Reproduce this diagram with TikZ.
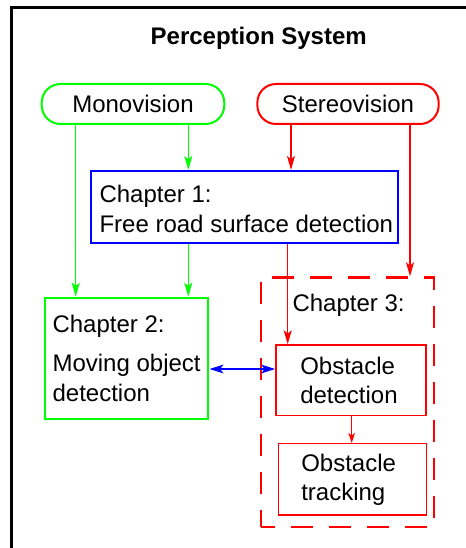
\documentclass[tikz,border=0pt]{standalone}
\usepackage{fontspec}
\setmainfont{Liberation Sans}
\usetikzlibrary{arrows.meta}
\definecolor{cgreen}{RGB}{0,255,0}
\definecolor{cred}{RGB}{255,0,0}
\definecolor{cblue}{RGB}{0,0,255}
\tikzset{
  box/.style={draw, rectangle, inner sep=0pt},
  txt/.style={anchor=base west, inner sep=0pt},
  garrow/.style={draw=cgreen, line width=1pt, -{Stealth[length=10.5pt,width=6pt,inset=2.5pt]}},
  rarrow/.style={draw=cred, line width=1pt, -{Stealth[length=10.5pt,width=6pt,inset=2.5pt]}},
  rsmall/.style={draw=cred, line width=1pt, -{Stealth[length=7.5pt,width=5pt,inset=2pt]}},
  barrow/.style={draw=cblue, line width=1.1pt, {Stealth[length=10.5pt,width=6.5pt,inset=2.5pt]}-{Stealth[length=10.5pt,width=6.5pt,inset=2.5pt]}},
}
\begin{document}
\begin{tikzpicture}[x=0.75pt, y=-0.75pt, font=\fontsize{18}{21.6}\selectfont]
\useasboundingbox (0,0) rectangle (466,548);
\clip (0,0) rectangle (466,548);
% outer frame
\draw[line width=2.6pt] (11.3,7.5) rectangle (540,620);
% title
\node[anchor=base, inner sep=0pt, font=\fontsize{18}{21.6}\selectfont\bfseries] (title) at (258.7,45) {Perception System};
% sources
\node[box, draw=cgreen, line width=1.5pt, rounded corners=14pt, minimum width=136.9pt, minimum height=30pt] (mono) at (133,104) {Monovision};
\node[box, draw=cred, line width=1.5pt, rounded corners=14pt, minimum width=136pt, minimum height=30pt] (stereo) at (348,104) {Stereovision};
% chapter 1
\node[box, draw=cblue, line width=1.6pt, minimum width=230pt, minimum height=54pt] (ch1) at (244.3,207) {};
\node[txt] (t1a) at (99.3,202.7) {Chapter 1:};
\node[txt] (t1b) at (99.3,232.7) {Free road surface detection};
% chapter 2
\node[box, draw=cgreen, line width=1.6pt, minimum width=122.5pt, minimum height=91.2pt] (ch2) at (126.7,358.5) {};
\node[txt] (t2a) at (52.3,332.3) {Chapter 2:};
\node[txt] (t2b) at (52.3,371.7) {Moving object};
\node[txt] (t2c) at (52.3,401) {detection};
% chapter 3
\node[box, draw=cred, line width=2pt, dash pattern=on 16.5pt off 12pt, dash phase=6pt, minimum width=129.75pt, minimum height=187pt] (ch3) at (347.5,402.3) {};
\node[txt] (t3a) at (292.3,311.7) {Chapter 3:};
\node[box, draw=cred, line width=1.1pt, minimum width=112.5pt, minimum height=53pt] (obsdet) at (351,380.3) {};
\node[txt] (t4a) at (300,374.3) {Obstacle};
\node[txt] (t4b) at (300,403.3) {detection};
\node[box, draw=cred, line width=1.1pt, minimum width=111.3pt, minimum height=53.5pt] (obstrk) at (352.5,479.3) {};
\node[txt] (t5a) at (301,471.7) {Obstacle};
\node[txt] (t5b) at (301,500.7) {tracking};
% connector x positions
\coordinate (gx1) at (75.7,0);
\coordinate (gx2) at (188.3,0);
\coordinate (rx1) at (291,0);
\coordinate (rx2) at (410,0);
\coordinate (rx3) at (287.7,0);
\coordinate (rx4) at (351.7,0);
\coordinate (by) at (0,369);
% connectors
\draw[garrow] (mono.south -| gx1) -- (ch2.north -| gx1);
\draw[garrow] (mono.south -| gx2) -- (ch1.north -| gx2);
\draw[garrow] (ch1.south -| gx2) -- (ch2.north -| gx2);
\draw[rarrow] (stereo.south -| rx1) -- (ch1.north -| rx1);
\draw[rarrow] (stereo.south -| rx2) -- (ch3.north -| rx2);
\draw[rarrow] (ch1.south -| rx3) -- (obsdet.north -| rx3);
\draw[rsmall] (obsdet.south -| rx4) -- (obstrk.north -| rx4);
\draw[barrow] (ch2.east |- by) -- (obsdet.west |- by);
\end{tikzpicture}
\end{document}
